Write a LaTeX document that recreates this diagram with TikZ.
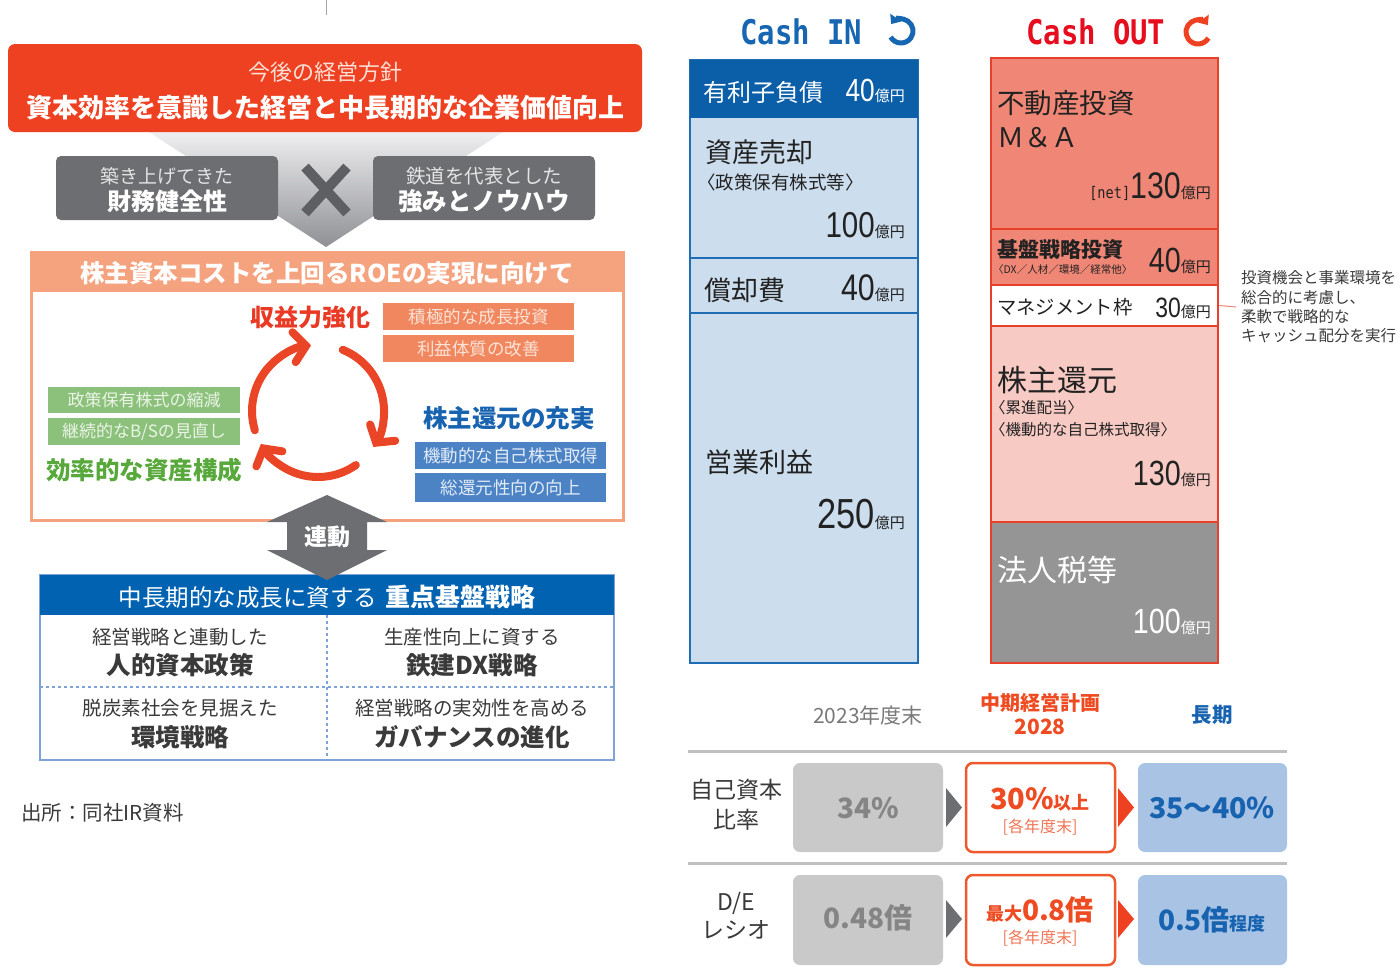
\documentclass[tikz,border=0pt]{standalone}
\usepackage{fontspec}
\setmainfont{Noto Sans CJK JP}
\newfontfamily\numf[FakeStretch=0.82]{Liberation Sans}
\newfontfamily\cashf[FakeStretch=0.85]{DejaVu Sans Mono}
\usetikzlibrary{arrows.meta,shapes.geometric}
\newcommand\fsz[1]{\fontsize{#1}{#1}\selectfont}
\newcommand\okuen[2]{{\numf\fsz{#1}#2}{\fsz{15}億円}}
\definecolor{orred}{HTML}{EE4122}
\definecolor{lpink}{HTML}{FCE0D6}
\definecolor{funtop}{HTML}{EFEFF1}
\definecolor{funbot}{HTML}{8F9094}
\definecolor{dgray}{HTML}{6D6E71}
\definecolor{xgray}{HTML}{5E5F63}
\definecolor{lgtxt}{HTML}{E4E4E4}
\definecolor{salbd}{HTML}{F5A27F}
\definecolor{redtxt}{HTML}{E83A25}
\definecolor{salbox}{HTML}{F1875E}
\definecolor{saltxt}{HTML}{FBE3D8}
\definecolor{grnbox}{HTML}{8CC17C}
\definecolor{grntxt}{HTML}{58A83C}
\definecolor{grnlt}{HTML}{EAF4E5}
\definecolor{bluetxt}{HTML}{1863B0}
\definecolor{bluebox}{HTML}{4C83C5}
\definecolor{bluelt}{HTML}{E3ECF7}
\definecolor{bluehdr}{HTML}{0062B1}
\definecolor{bluebd}{HTML}{7DA3D8}
\definecolor{cyc}{HTML}{EA4527}
\definecolor{celltxt}{HTML}{3A3A3A}
\definecolor{cinblue}{HTML}{1766B2}
\definecolor{cindk}{HTML}{0B5EA8}
\definecolor{cinlt}{HTML}{CCDEEE}
\definecolor{cinbd}{HTML}{1E6DB5}
\definecolor{coutred}{HTML}{E60E1E}
\definecolor{coutbd}{HTML}{E8412B}
\definecolor{coutsal}{HTML}{F08776}
\definecolor{coutpink}{HTML}{F8CAC4}
\definecolor{coutgray}{HTML}{959595}
\definecolor{tline}{HTML}{C0C0C0}
\definecolor{gbox}{HTML}{C9C9C9}
\definecolor{gtxt}{HTML}{858585}
\definecolor{obox}{HTML}{EE5A2E}
\definecolor{otxt}{HTML}{EE4B22}
\definecolor{olt}{HTML}{F07555}
\definecolor{bbox}{HTML}{A9C3E5}
\definecolor{dtxt}{HTML}{222222}
\tikzset{
  box/.style={draw=none, inner sep=0pt, rectangle},
  txt/.style={inner sep=0pt, anchor=center},
  cycarrow/.style={cyc, line width=8pt, line cap=round, -{Straight Barb[length=12pt,width=30pt,line cap=round]}},
  outbox/.style={box, draw=coutbd, line width=2.5pt, minimum width=227pt},
  tribox/.style={box, rounded corners=7pt, minimum width=150pt, minimum height=89pt},
}
\begin{document}
\begin{tikzpicture}[x=1pt,y=-1pt]
\useasboundingbox (0,0) rectangle (1400,967);
\fill[white] (0,0) rectangle (1400,967);
% ---------- left panel ----------
\coordinate (tl1) at (326,0); \coordinate (tl2) at (326,15);
\draw[gray!70, line width=1pt] (tl1) -- (tl2);
\shade[top color=funtop, bottom color=funbot] (149,132) -- (503,132) -- (326,247) -- cycle;
\node[box, fill=orred, rounded corners=7pt, minimum width=634pt, minimum height=88pt] (policy) at (325,88) {};
\node[txt, text=lpink, font=\fsz{22}] (policyA) at (325,72) {今後の経営方針};
\node[txt, text=white, font=\bfseries\fsz{26}] (policyB) at (325,108) {資本効率を意識した経営と中長期的な企業価値向上};
\node[box, fill=dgray, rounded corners=5pt, minimum width=222pt, minimum height=64pt] (fin) at (167,188) {};
\node[txt, text=lgtxt, font=\fsz{19}] (finA) at (167,176) {築き上げてきた};
\node[txt, text=white, font=\bfseries\fsz{24}] (finB) at (167,201) {財務健全性};
\node[box, fill=dgray, rounded corners=5pt, minimum width=222pt, minimum height=64pt] (rail) at (484,188) {};
\node[txt, text=lgtxt, font=\fsz{19.5}] (railA) at (484,176) {鉄道を代表とした};
\node[txt, text=white, font=\bfseries\fsz{24.5}] (railB) at (484,201) {強みとノウハウ};
\coordinate (xa) at (305,167); \coordinate (xb) at (347,213);
\coordinate (xc) at (347,167); \coordinate (xd) at (305,213);
\draw[xgray, line width=10pt] (xa) -- (xb) (xc) -- (xd);
% ROE box
\node[box, draw=salbd, line width=3pt, fill=white, minimum width=592pt, minimum height=268pt] (roe) at (327,386) {};
\node[box, fill=salbd, minimum width=592pt, minimum height=40pt] (roeh) at (327,272) {};
\node[txt, text=white, font=\bfseries\fsz{24.5}] (roet) at (327,273) {株主資本コストを上回るROEの実現に向けて};
\coordinate (cc) at (318,411);
\draw[cycarrow] ([shift={(-197:66)}]cc) arc (-197:-96:66);
\draw[cycarrow] ([shift={(-68:66)}]cc) arc (-68:33:66);
\draw[cycarrow] ([shift={(55:66)}]cc) arc (55:150:66);
\node[txt, text=redtxt, font=\bfseries\fsz{24}] (earn) at (310,317) {収益力強化};
\node[box, fill=salbox, minimum width=191pt, minimum height=27pt, text=saltxt, font=\fsz{17.5}] (earn1) at (478.5,316.5) {積極的な成長投資};
\node[box, fill=salbox, minimum width=191pt, minimum height=27pt, text=saltxt, font=\fsz{17.5}] (earn2) at (478.5,348.5) {利益体質の改善};
\node[box, fill=grnbox, minimum width=192pt, minimum height=26pt, text=grnlt, font=\fsz{17}] (eff1) at (144,400) {政策保有株式の縮減};
\node[box, fill=grnbox, minimum width=192pt, minimum height=27pt, text=grnlt, font=\fsz{17}] (eff2) at (144,431.5) {継続的なB/Sの見直し};
\node[txt, text=grntxt, font=\bfseries\fsz{24.5}] (eff) at (144,470) {効率的な資産構成};
\node[txt, text=bluetxt, font=\bfseries\fsz{24.5}] (ret) at (509,418) {株主還元の充実};
\node[box, fill=bluebox, minimum width=191pt, minimum height=27pt, text=bluelt, font=\fsz{17.5}] (ret1) at (510.5,455.5) {機動的な自己株式取得};
\node[box, fill=bluebox, minimum width=191pt, minimum height=29pt, text=bluelt, font=\fsz{17.5}] (ret2) at (510.5,487.5) {総還元性向の向上};
% base strategy box
\node[box, draw=bluebd, line width=1.5pt, fill=white, minimum width=574pt, minimum height=185pt] (base) at (327,667.5) {};
\node[box, fill=bluehdr, minimum width=574pt, minimum height=40pt] (baseh) at (327,595) {};
\node[txt, text=white] (baset) at (327,597) {{\fsz{23.5}中長期的な成長に資する}\hspace{8pt}{\bfseries\fsz{25}重点基盤戦略}};
\coordinate (dv1) at (327,615); \coordinate (dv2) at (327,760);
\coordinate (dh1) at (40,687); \coordinate (dh2) at (614,687);
\draw[bluebd, dashed, line width=1.2pt] (dv1) -- (dv2) (dh1) -- (dh2);
\node[txt, text=celltxt, font=\fsz{19.5}] (c1a) at (180,637) {経営戦略と連動した};
\node[txt, text=celltxt, font=\bfseries\fsz{24.5}] (c1b) at (180,665) {人的資本政策};
\node[txt, text=celltxt, font=\fsz{19.5}] (c2a) at (472,637) {生産性向上に資する};
\node[txt, text=celltxt, font=\bfseries\fsz{24.5}] (c2b) at (472,665) {鉄建DX戦略};
\node[txt, text=celltxt, font=\fsz{19.5}] (c3a) at (180,708) {脱炭素社会を見据えた};
\node[txt, text=celltxt, font=\bfseries\fsz{24.5}] (c3b) at (180,737) {環境戦略};
\node[txt, text=celltxt, font=\fsz{19.5}] (c4a) at (472,708) {経営戦略の実効性を高める};
\node[txt, text=celltxt, font=\bfseries\fsz{24.5}] (c4b) at (472,737) {ガバナンスの進化};
% link arrow
\fill[dgray] (327,495) -- (387,522) -- (367,522) -- (367,550) -- (387,550) -- (327,580) -- (267,550) -- (287,550) -- (287,522) -- (267,522) -- cycle;
\node[txt, text=white, font=\bfseries\fsz{23}] (link) at (327,537) {連動};
\node[txt, anchor=west, text=celltxt, font=\fsz{20.5}] (src) at (21,813) {出所：同社IR資料};
% ---------- Cash IN ----------
\node[txt, anchor=west, text=cinblue, font=\cashf\bfseries\fsz{34}] (cin) at (740,32) {Cash IN};
\coordinate (cinic) at (901,31);
\draw[cinblue, line width=5pt, {Triangle[length=8pt,width=13pt]}-] ([shift={(-145:12)}]cinic) arc (-145:150:12);
\node[box, draw=cinbd, line width=2.5pt, fill=cinlt, minimum width=228pt, minimum height=603pt] (incol) at (804,361.5) {};
\node[box, fill=cindk, minimum width=228pt, minimum height=58pt] (debt) at (804,89) {};
\coordinate (l1a) at (690,258); \coordinate (l1b) at (918,258);
\coordinate (l2a) at (690,313); \coordinate (l2b) at (918,313);
\draw[cinbd, line width=2.5pt] (l1a) -- (l1b) (l2a) -- (l2b);
\node[txt, anchor=west, text=white, font=\fsz{24}] (debtA) at (703,92) {有利子負債};
\node[txt, anchor=base east, text=white] (debtB) at (905,101) {\okuen{32}{40}};
\node[txt, anchor=west, text=dtxt, font=\fsz{27}] (saleA) at (705,152) {資産売却};
\node[txt, anchor=west, text=dtxt, font=\fsz{18.5}] (saleB) at (697,182) {〈政策保有株式等〉};
\node[txt, anchor=base east, text=dtxt] (saleC) at (905,237) {\okuen{36}{100}};
\node[txt, anchor=west, text=dtxt, font=\fsz{27}] (depA) at (704,290) {償却費};
\node[txt, anchor=base east, text=dtxt] (depB) at (905,300) {\okuen{37}{40}};
\node[txt, anchor=west, text=dtxt, font=\fsz{27}] (opA) at (705,462) {営業利益};
\node[txt, anchor=base east, text=dtxt] (opB) at (905,528) {\okuen{42}{250}};
% ---------- Cash OUT ----------
\node[txt, anchor=west, text=coutred, font=\cashf\bfseries\fsz{34}] (cout) at (1026,32) {Cash OUT};
\coordinate (coutic) at (1198,32);
\draw[orred, line width=5pt, {Triangle[length=8pt,width=13pt]}-] ([shift={(-35:12)}]coutic) arc (-35:-330:12);
\node[outbox, fill=coutsal, minimum height=171pt] (o1) at (1104.5,143.5) {};
\node[outbox, fill=coutsal, minimum height=56pt] (o2) at (1104.5,257) {};
\node[outbox, fill=white, minimum height=41pt] (o3) at (1104.5,305.5) {};
\node[outbox, fill=coutpink, minimum height=196pt] (o4) at (1104.5,424) {};
\node[outbox, fill=coutgray, minimum height=141pt] (o5) at (1104.5,592.5) {};
\node[txt, anchor=west, text=dtxt, font=\fsz{27.5}] (o1a) at (997,103) {不動産投資};
\node[txt, anchor=west, text=dtxt, font=\fsz{27}] (o1b) at (997,138) {Ｍ＆Ａ};
\node[txt, anchor=base east, text=dtxt] (o1c) at (1211,198) {{\cashf\fsz{16}[net]}\okuen{37}{130}};
\node[txt, anchor=west, text=dtxt, font=\bfseries\fsz{21}] (o2a) at (997,250) {基盤戦略投資};
\node[txt, anchor=west, text=dtxt, font=\fsz{10.5}] (o2b) at (993,270) {〈DX／人材／環境／経常他〉};
\node[txt, anchor=base east, text=dtxt] (o2c) at (1211,272) {\okuen{35}{40}};
\node[txt, anchor=west, text=dtxt, font=\fsz{19.3}] (o3a) at (997,307) {マネジメント枠};
\node[txt, anchor=base east, text=dtxt] (o3b) at (1211,317) {\okuen{28}{30}};
\node[txt, anchor=west, text=dtxt, font=\fsz{30}] (o4a) at (997,380) {株主還元};
\node[txt, anchor=west, text=dtxt, font=\fsz{15.5}] (o4b) at (990,408) {〈累進配当〉};
\node[txt, anchor=west, text=dtxt, font=\fsz{15.5}] (o4c) at (990,430) {〈機動的な自己株式取得〉};
\node[txt, anchor=base east, text=dtxt] (o4d) at (1211,485) {\okuen{35}{130}};
\node[txt, anchor=west, text=white, font=\fsz{30}] (o5a) at (997,570) {法人税等};
\node[txt, anchor=base east, text=white] (o5b) at (1211,633) {\okuen{35}{100}};
\node[txt, anchor=west, text=celltxt, align=left, font=\fontsize{15.5}{19.3}\selectfont] (note) at (1241,307) {投資機会と事業環境を\\総合的に考慮し、\\柔軟で戦略的な\\キャッシュ配分を実行};
\coordinate (nl) at (1236,307);
\draw[coutsal, line width=1pt] (o3.east) -- (nl);
% ---------- bottom table ----------
\node[txt, text=gray!95!black, font=\fsz{21}] (h1) at (868,715) {2023年度末};
\node[txt, text=otxt, font=\bfseries\fsz{20}] (h2a) at (1040,703) {中期経営計画};
\node[txt, text=otxt, font=\bfseries\fsz{21}] (h2b) at (1040,727) {2028};
\node[txt, text=bluetxt, font=\bfseries\fsz{20.5}] (h3) at (1212,715) {長期};
\coordinate (t1a) at (688,751); \coordinate (t1b) at (1287,751);
\coordinate (t2a) at (688,863); \coordinate (t2b) at (1287,863);
\draw[tline, line width=3pt] (t1a) -- (t1b) (t2a) -- (t2b);
\node[txt, text=celltxt, font=\fsz{23}] (r1a) at (736,790) {自己資本};
\node[txt, text=celltxt, font=\fsz{23}] (r1b) at (736,820) {比率};
\node[txt, text=celltxt, font=\fsz{23}] (r2a) at (736,903) {D/E};
\node[txt, text=celltxt, font=\fsz{23}] (r2b) at (736,930) {レシオ};
\node[tribox, fill=gbox] (g1) at (868,807.5) {};
\node[tribox, fill=white, draw=obox, line width=2.5pt, minimum width=149pt] (m1) at (1040.5,807.5) {};
\node[tribox, fill=bbox, minimum width=149pt] (b1) at (1212.5,807.5) {};
\node[tribox, fill=gbox, minimum height=90pt] (g2) at (868,920) {};
\node[tribox, fill=white, draw=obox, line width=2.5pt, minimum width=149pt, minimum height=90pt] (m2) at (1040.5,920) {};
\node[tribox, fill=bbox, minimum width=149pt, minimum height=90pt] (b2) at (1212.5,920) {};
\fill[dgray] (946,788) -- (962,807.5) -- (946,827) -- cycle;
\fill[orred] (1118,788) -- (1134,807.5) -- (1118,827) -- cycle;
\fill[dgray] (946,900) -- (962,919) -- (946,938) -- cycle;
\fill[orred] (1118,900) -- (1134,919) -- (1118,938) -- cycle;
\node[txt, text=gtxt, font=\bfseries\fsz{28}] (g1t) at (868,808) {34\%};
\node[txt, text=otxt] (m1t) at (1040,799) {{\bfseries\fsz{29}30\%}{\bfseries\fsz{18}以上}};
\node[txt, text=olt, font=\fsz{16}] (m1s) at (1040,827) {[各年度末]};
\node[txt, text=bluetxt, font=\bfseries\fsz{28.5}] (b1t) at (1212,808) {35～40\%};
\node[txt, text=gtxt, font=\bfseries\fsz{28}] (g2t) at (868,918) {0.48倍};
\node[txt, text=otxt] (m2t) at (1040,910) {{\bfseries\fsz{18}最大}{\bfseries\fsz{28}0.8倍}};
\node[txt, text=olt, font=\fsz{16}] (m2s) at (1040,938) {[各年度末]};
\node[txt, text=bluetxt] (b2t) at (1212,920) {{\bfseries\fsz{28}0.5倍}{\bfseries\fsz{18}程度}};
\end{tikzpicture}
\end{document}
